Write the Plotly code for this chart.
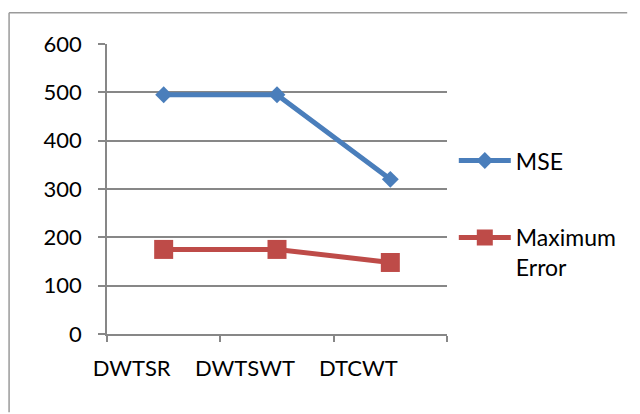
import plotly.graph_objects as go

# Error measures per transform
methods = ["DWTSR", "DWTSWT", "DTCWT"]
mse = [495, 495, 320]
max_error = [175, 175, 148]
y_ticks = [0, 100, 200, 300, 400, 500, 600]

FONT = "Lato"
GRID = "#878787"
FRAME = "#9a9a9a"

fig = go.Figure()
fig.add_trace(go.Scatter(
    x=methods, y=mse, name="MSE", mode="lines+markers",
    line=dict(color="#4A7EBB", width=5),
    marker=dict(symbol="diamond", size=13, color="#4A7EBB"),
    legendgroup="a",
))
fig.add_trace(go.Scatter(
    x=methods, y=max_error, name="Maximum<br>Error", mode="lines+markers",
    line=dict(color="#BE4B48", width=5),
    marker=dict(symbol="square", size=19, color="#BE4B48"),
    legendgroup="b",
))

# outer chart frame: top and left edges
frame = [
    dict(type="line", xref="paper", yref="paper",
         x0=-0.288, x1=1.53, y0=1.108, y1=1.108,
         line=dict(color=FRAME, width=1.5), layer="below"),
    dict(type="line", xref="paper", yref="paper",
         x0=-0.288, x1=-0.288, y0=1.108, y1=-0.27,
         line=dict(color=FRAME, width=1.5), layer="below"),
]

fig.update_layout(
    width=640, height=414,
    margin=dict(l=107, r=193, t=44, b=80),
    paper_bgcolor="white", plot_bgcolor="white",
    font=dict(family=FONT, size=22, color="#000000"),
    showlegend=True,
    legend=dict(
        x=1.02, xanchor="left", y=0.672, yanchor="top",
        bgcolor="rgba(0,0,0,0)", tracegroupgap=44, valign="top",
        itemwidth=52,
        font=dict(family=FONT, size=23, color="#000000"),
    ),
    xaxis=dict(
        type="category", range=[-0.5, 2.5],
        showline=True, linecolor=GRID, linewidth=1.5,
        ticks="outside", ticklen=6, tickcolor=GRID, tickwidth=1.5,
        tickson="boundaries", showgrid=False,
        ticklabelshift=-32, ticklabelstandoff=14,
    ),
    yaxis=dict(
        range=[0, 600], tickvals=y_ticks,
        showline=True, linecolor=GRID, linewidth=1.5,
        ticks="outside", ticklen=7, tickcolor=GRID, tickwidth=1.5,
        showgrid=True, gridcolor=GRID, gridwidth=1.5,
        zeroline=False, ticklabelstandoff=12,
    ),
    shapes=frame,
)

fig.write_html("out.html")
